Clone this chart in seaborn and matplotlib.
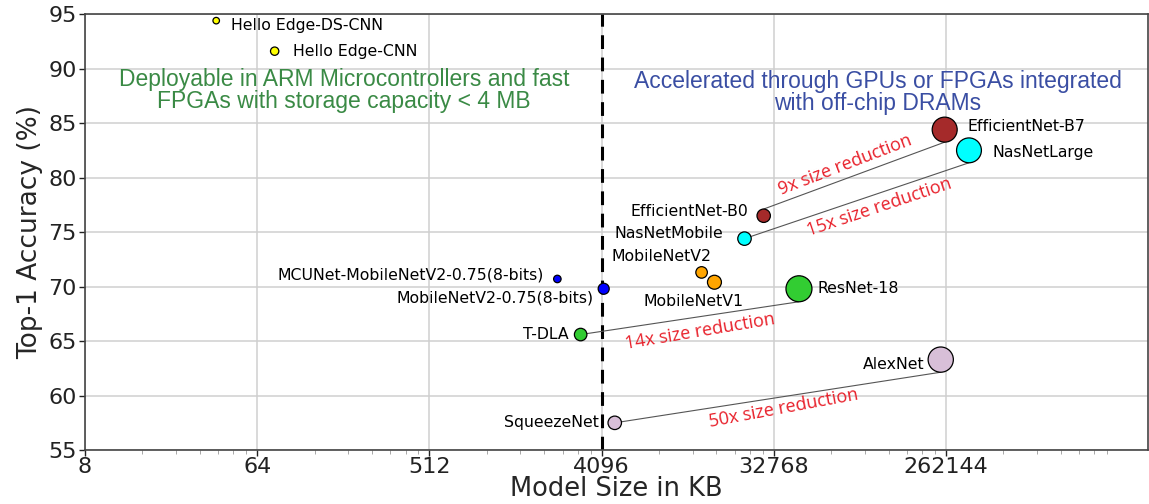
import matplotlib
matplotlib.use("Agg")
import matplotlib.pyplot as plt
import matplotlib.transforms as mtransforms
from matplotlib.ticker import FixedLocator, FuncFormatter, LogLocator, NullFormatter
import numpy as np
import pandas as pd
import seaborn as sns

# data
models = [
    "Hello Edge-DS-CNN", "Hello Edge-CNN", "MCUNet-MobileNetV2-0.75(8-bits)",
    "MobileNetV2-0.75(8-bits)", "T-DLA", "SqueezeNet", "MobileNetV2", "MobileNetV1",
    "NasNetMobile", "EfficientNet-B0", "ResNet-18", "EfficientNet-B7", "NasNetLarge", "AlexNet",
]
size_kb = [39, 79, 2400, 4200, 3180, 4800, 13700, 16000, 23000, 29000, 44400, 258000, 346000, 246000]
accuracy = [94.4, 91.6, 70.7, 69.8, 65.6, 57.5, 71.3, 70.4, 74.4, 76.5, 69.8, 84.4, 82.5, 63.3]
x_ticks = [8, 64, 512, 4096, 32768, 262144]

# pairs joined by a line: (small model, big model, label)
pairs = [
    ("EfficientNet-B0", "EfficientNet-B7", "9x size reduction"),
    ("NasNetMobile", "NasNetLarge", "15x size reduction"),
    ("T-DLA", "ResNet-18", "14x size reduction"),
    ("SqueezeNet", "AlexNet", "50x size reduction"),
]

# styling
colors = ["yellow", "yellow", "blue", "blue", "limegreen", "thistle", "orange", "orange",
          "cyan", "brown", "limegreen", "brown", "cyan", "thistle"]
marker_area = [22, 36, 29, 63, 81, 94, 69, 101, 94, 93, 350, 324, 320, 330]
# label offsets in points and alignment
label_pos = {
    "Hello Edge-DS-CNN": (11, -3.6, "left"),
    "Hello Edge-CNN": (13, 0, "left"),
    "MCUNet-MobileNetV2-0.75(8-bits)": (-10, 3, "right"),
    "MobileNetV2-0.75(8-bits)": (-7, -7, "right"),
    "T-DLA": (-9, 0, "right"),
    "SqueezeNet": (-11.5, 0, "right"),
    "MobileNetV2": (-29, 11.5, "center"),
    "MobileNetV1": (-15, -14, "center"),
    "NasNetMobile": (-15, 4, "right"),
    "EfficientNet-B0": (-11, 3, "right"),
    "ResNet-18": (13, 0, "left"),
    "EfficientNet-B7": (16.5, 2, "left"),
    "NasNetLarge": (17, -1.5, "left"),
    "AlexNet": (-11.5, -3.5, "right"),
}
# reduction label placement: (x, y, rotation)
reduction_pos = [(77400, 81.2, 21), (116600, 77.3, 18.5), (13400, 65.9, 9.5), (37000, 58.8, 10.5)]

df = pd.DataFrame({"model": models, "size_kb": size_kb, "accuracy": accuracy})

sns.set_style("whitegrid", {
    "axes.edgecolor": "#444444",
    "grid.color": "#cfcfcf",
    "xtick.bottom": True,
    "ytick.left": True,
})
plt.rcParams["font.family"] = ["DejaVu Sans"]

fig, ax = plt.subplots(figsize=(11.49, 5.04), dpi=100)
fig.subplots_adjust(left=0.074, right=0.999, top=0.972, bottom=0.107)

sns.scatterplot(
    data=df, x="size_kb", y="accuracy",
    hue="model", palette=dict(zip(models, colors)),
    size="model", sizes=dict(zip(models, marker_area)),
    edgecolor="black", linewidth=0.9, legend=False, ax=ax, zorder=3,
)

ax.set_xscale("log", base=8)
ax.set_xlim(8, 3.0e6)
ax.set_ylim(55, 95)
ax.xaxis.set_major_locator(FixedLocator(x_ticks))
ax.xaxis.set_major_formatter(FuncFormatter(lambda v, _: f"{int(round(v))}"))
ax.xaxis.set_minor_locator(LogLocator(base=8, subs=np.arange(2, 8)))
ax.xaxis.set_minor_formatter(NullFormatter())
ax.set_yticks(np.arange(55, 96, 5))
ax.tick_params(axis="both", which="major", labelsize=16, length=4, width=1, colors="#222222")
ax.tick_params(axis="x", which="major", pad=1)
ax.tick_params(axis="y", which="major", pad=2)
ax.tick_params(axis="x", which="minor", length=3, color="#999999")
ax.grid(True, which="major", linewidth=1.1)
for s in ax.spines.values():
    s.set_linewidth(1.2)

ax.set_xlabel("Model Size in KB", fontsize=18.5, labelpad=-1)
ax.set_ylabel("Top-1 Accuracy (%)", fontsize=19, labelpad=4)

# boundary at 4 MB
ax.axvline(4096, color="black", linestyle=(0, (4.5, 2.8)), linewidth=2.2, zorder=2)

# model labels
for m, x, y in zip(models, size_kb, accuracy):
    dx, dy, ha = label_pos[m]
    ax.annotate(m, (x, y), xytext=(dx, dy), textcoords="offset points",
                ha=ha, va="center", fontsize=11.3, color="black", zorder=4)

# reduction lines and labels
area = dict(zip(models, marker_area))
pos = df.set_index("model")
for (small, big, txt), (tx, ty, rot) in zip(pairs, reduction_pos):
    r_big = np.sqrt(area[big]) / 2
    r_small = np.sqrt(area[small]) / 2 if small == "EfficientNet-B0" else 0
    end_tr = ax.transData + mtransforms.ScaledTranslation(0, -r_big / 72, fig.dpi_scale_trans)
    start_tr = ax.transData + mtransforms.ScaledTranslation(0, r_small / 72, fig.dpi_scale_trans)
    ax.annotate("", xy=(pos.loc[big, "size_kb"], pos.loc[big, "accuracy"]), xycoords=end_tr,
                xytext=(pos.loc[small, "size_kb"], pos.loc[small, "accuracy"]), textcoords=start_tr,
                arrowprops=dict(arrowstyle="-", color="#555555", lw=0.8,
                                shrinkA=0, shrinkB=0), zorder=2)
    ax.text(tx, ty, txt, rotation=rot, ha="center", va="center", fontsize=13,
            color="#e8202a", family=["Open Sans", "DejaVu Sans"], zorder=4)

# region notes
ax.text(183, 88.0, "Deployable in ARM Microcontrollers and fast\nFPGAs with storage capacity < 4 MB",
        ha="center", va="center", multialignment="center", fontsize=16.5,
        color="#3a8a45", family=["Liberation Sans", "DejaVu Sans"], linespacing=0.95)
ax.text(115000, 87.8, "Accelerated through GPUs or FPGAs integrated\nwith off-chip DRAMs",
        ha="center", va="center", multialignment="center", fontsize=16.5,
        color="#3a4ea3", family=["Liberation Sans", "DejaVu Sans"], linespacing=0.95)

fig.savefig("out.png", dpi=100)
